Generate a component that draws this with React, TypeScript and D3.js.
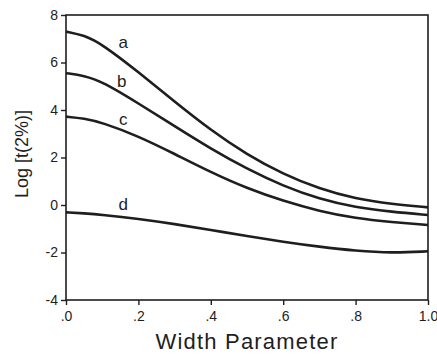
import { useRef, useEffect } from "react";
import * as d3 from "d3";

// width parameter sample points
const widths = [0, 0.05, 0.1, 0.2, 0.3, 0.4, 0.5, 0.6, 0.7, 0.8, 0.9, 1.0];

// Log[t(2%)]
const curveA = [7.3, 7.15, 6.77, 5.6, 4.35, 3.15, 2.12, 1.3, 0.68, 0.26, 0.04, -0.1];
const curveB = [5.55, 5.45, 5.2, 4.28, 3.32, 2.37, 1.52, 0.8, 0.25, -0.1, -0.29, -0.42];
const curveC = [3.72, 3.65, 3.47, 2.9, 2.15, 1.38, 0.7, 0.17, -0.26, -0.56, -0.72, -0.84];
const curveD = [-0.31, -0.35, -0.41, -0.58, -0.8, -1.05, -1.31, -1.55, -1.76, -1.93, -2.02, -1.95];

const seriesNames = ["a", "b", "c", "d"];
const labelX = [0.158, 0.154, 0.158, 0.158];
const labelY = [6.6, 4.98, 3.37, -0.2];

const xTicks = [0, 0.2, 0.4, 0.6, 0.8, 1.0];
const xTickLabels = [".0", ".2", ".4", ".6", ".8", "1.0"];
const yTicks = [-4, -2, 0, 2, 4, 6, 8];

const App = () => {
  const svgRef = useRef<SVGSVGElement>(null);

  useEffect(() => {
    const svg = d3.select(svgRef.current);
    svg.selectAll("*").remove();

    const left = 66,
      right = 428,
      top = 15,
      bottom = 300,
      font = "'Liberation Sans', Arial, sans-serif",
      ink = "#1e1e1e";

    const x = d3.scaleLinear().domain([0, 1]).range([left, right]);
    const y = d3.scaleLinear().domain([-4, 8]).range([bottom, top]);

    // frame
    svg
      .append("rect")
      .attr("x", left)
      .attr("y", top)
      .attr("width", right - left)
      .attr("height", bottom - top)
      .attr("fill", "none")
      .attr("stroke", ink)
      .attr("stroke-width", 1.6);

    const xAxis = svg
      .append("g")
      .attr("transform", "translate(0," + bottom + ")")
      .call(
        d3
          .axisBottom(x)
          .tickValues(xTicks)
          .tickSize(5)
          .tickPadding(6)
          .tickFormat((d, i) => xTickLabels[i])
      );
    xAxis.select(".domain").remove();
    xAxis.selectAll(".tick line").attr("stroke", ink).attr("stroke-width", 1.4);
    xAxis
      .selectAll(".tick text")
      .attr("fill", ink)
      .style("font-family", font)
      .style("font-size", "14px");

    const yAxis = svg
      .append("g")
      .attr("transform", "translate(" + left + ",0)")
      .call(
        d3
          .axisLeft(y)
          .tickValues(yTicks)
          .tickSize(5)
          .tickPadding(3)
          .tickFormat((d) => String(d))
      );
    yAxis.select(".domain").remove();
    yAxis.selectAll(".tick line").attr("stroke", ink).attr("stroke-width", 1.4);
    yAxis
      .selectAll(".tick text")
      .attr("fill", ink)
      .style("font-family", font)
      .style("font-size", "14px");

    // b-spline smooths the curves through the read points
    const line = d3
      .line<number>()
      .x((d, i) => x(widths[i]))
      .y((d) => y(d))
      .curve(d3.curveBasis);

    [curveA, curveB, curveC, curveD].forEach((s) => {
      svg
        .append("path")
        .attr("d", line(s))
        .attr("fill", "none")
        .attr("stroke", ink)
        .attr("stroke-width", 2.6);
    });

    seriesNames.forEach((n, i) => {
      svg
        .append("text")
        .attr("x", x(labelX[i]))
        .attr("y", y(labelY[i]))
        .attr("text-anchor", "middle")
        .attr("fill", ink)
        .style("font-family", font)
        .style("font-size", "17px")
        .text(n);
    });

    svg
      .append("text")
      .attr("x", (left + right) / 2)
      .attr("y", 349)
      .attr("text-anchor", "middle")
      .attr("fill", ink)
      .style("font-family", font)
      .style("font-size", "22px")
      .style("letter-spacing", "1.2px")
      .text("Width Parameter");

    svg
      .append("text")
      .attr("transform", "translate(28," + 154 + ") rotate(-90)")
      .attr("text-anchor", "middle")
      .attr("fill", ink)
      .style("font-family", font)
      .style("font-size", "18px")
      .text("Log [t(2%)]");
  }, []);

  return (
    <svg
      ref={svgRef}
      width={437}
      height={354}
      style={{ position: "absolute", left: 0, top: 0, background: "#fff" }}
    ></svg>
  );
};

export default App;
